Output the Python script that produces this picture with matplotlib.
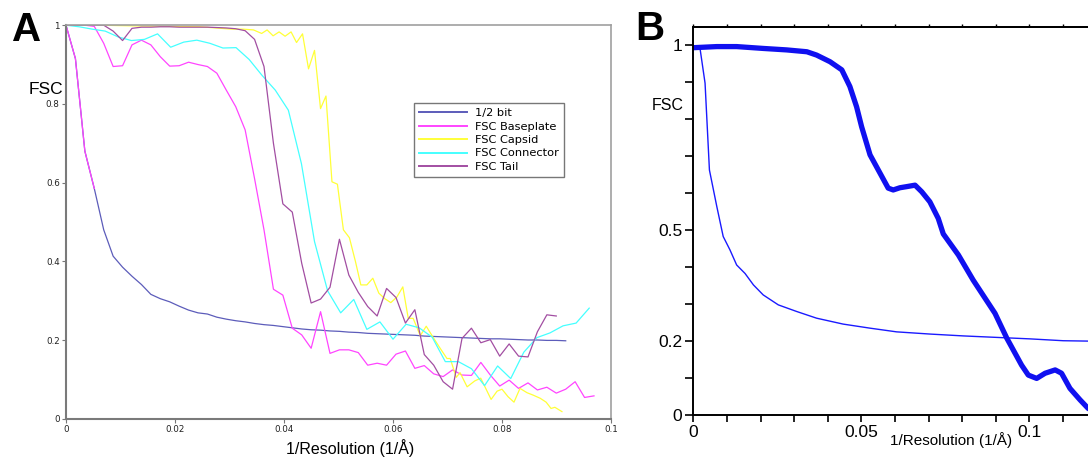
"""
FSC curves: (A) per-region FSC of the reconstruction vs the 1/2-bit threshold,
(B) gold-standard FSC of the full map vs the 1/2-bit threshold.
"""

import numpy as np
import matplotlib
matplotlib.use('Agg')
import matplotlib.pyplot as plt
from matplotlib.ticker import FixedLocator, FixedFormatter, NullFormatter

# ---------------------------------------------------------------- panel A data
# frequency sampling of the half-bit / baseplate / tail curves (1/A)
STEP_A = 0.00173
# connector map was sampled on a coarser grid
STEP_CONNECTOR = 0.0024

half_bit = [1.0, 0.915, 0.68, 0.585, 0.48, 0.413, 0.385, 0.362, 0.341, 0.316,
            0.305, 0.297, 0.286, 0.276, 0.269, 0.266, 0.258, 0.253, 0.249, 0.246,
            0.242, 0.239, 0.237, 0.234, 0.231, 0.228, 0.226, 0.225, 0.223, 0.222,
            0.220, 0.219, 0.217, 0.216, 0.215, 0.214, 0.213, 0.212, 0.210, 0.209,
            0.208, 0.207, 0.206, 0.205, 0.204, 0.203, 0.203, 0.202, 0.201, 0.200,
            0.200, 0.199, 0.199, 0.198]

fsc_baseplate = [1.0, 1.0, 1.0, 0.997, 0.954, 0.895, 0.897, 0.95, 0.962, 0.95,
                 0.92, 0.896, 0.897, 0.906, 0.90, 0.895, 0.878, 0.835, 0.793, 0.734,
                 0.61, 0.48, 0.329, 0.314, 0.23, 0.213, 0.179, 0.272, 0.166, 0.175,
                 0.175, 0.168, 0.136, 0.141, 0.136, 0.164, 0.172, 0.128, 0.135, 0.114,
                 0.107, 0.124, 0.111, 0.110, 0.143, 0.111, 0.083, 0.098, 0.077, 0.091,
                 0.073, 0.08, 0.065, 0.075, 0.094, 0.054, 0.058]

fsc_tail = [1.0, 1.0, 1.0, 1.0, 1.0, 0.985, 0.961, 0.992, 0.995, 0.995,
            0.996, 0.996, 0.995, 0.995, 0.995, 0.995, 0.994, 0.993, 0.991, 0.986,
            0.964, 0.895, 0.70, 0.546, 0.525, 0.395, 0.294, 0.304, 0.334, 0.456,
            0.365, 0.321, 0.285, 0.261, 0.331, 0.308, 0.243, 0.277, 0.163, 0.136,
            0.094, 0.075, 0.204, 0.23, 0.193, 0.201, 0.159, 0.19, 0.159, 0.157,
            0.221, 0.264, 0.261]

fsc_connector = [1.0, 0.996, 0.99, 0.985, 0.97, 0.961, 0.964, 0.978, 0.944, 0.957,
                 0.962, 0.954, 0.942, 0.943, 0.913, 0.872, 0.835, 0.784, 0.648, 0.45,
                 0.325, 0.269, 0.303, 0.227, 0.246, 0.202, 0.24, 0.231, 0.207, 0.145,
                 0.145, 0.127, 0.084, 0.134, 0.102, 0.169, 0.206, 0.218, 0.236, 0.243,
                 0.281]

# capsid map has its own (finer) frequency grid
capsid_freq = [0.0, 0.0062, 0.0136, 0.0191, 0.0246, 0.0304, 0.0325, 0.0344, 0.0359, 0.0369,
               0.0380, 0.0391, 0.0402, 0.0413, 0.0423, 0.0434, 0.0445, 0.0456, 0.0467, 0.0477,
               0.0488, 0.0498, 0.0509, 0.0520, 0.0531, 0.0541, 0.0552, 0.0563, 0.0574, 0.0585,
               0.0596, 0.0607, 0.0618, 0.0628, 0.0637, 0.0650, 0.0661, 0.0673, 0.0686, 0.0699,
               0.0705, 0.0716, 0.0723, 0.0736, 0.0750, 0.0761, 0.0780, 0.0791, 0.0800, 0.0811,
               0.0822, 0.0833, 0.0846, 0.0857, 0.0870, 0.0881, 0.0890, 0.0897, 0.0910]
fsc_capsid = [1.0, 1.0, 0.998, 0.997, 0.996, 0.99, 0.99, 0.988, 0.979, 0.988,
              0.973, 0.983, 0.972, 0.983, 0.956, 0.978, 0.889, 0.936, 0.788, 0.82,
              0.602, 0.596, 0.48, 0.46, 0.40, 0.34, 0.34, 0.357, 0.319, 0.305,
              0.295, 0.309, 0.335, 0.255, 0.255, 0.211, 0.235, 0.208, 0.18, 0.153,
              0.153, 0.105, 0.117, 0.081, 0.096, 0.103, 0.049, 0.07, 0.075, 0.056,
              0.042, 0.077, 0.066, 0.06, 0.052, 0.042, 0.026, 0.029, 0.018]

A_XTICKS = [0, 0.02, 0.04, 0.06, 0.08, 0.1]
A_XTICKLABELS = ['0', '0.02', '0.04', '0.06', '0.08', '0.1']
A_YTICKS = [0, 0.2, 0.4, 0.6, 0.8, 1.0]
A_YTICKLABELS = ['0', '0.2', '0.4', '0.6', '0.8', '1']

# ---------------------------------------------------------------- panel B data
fsc_full_freq = [0, 0.007, 0.0129, 0.0208, 0.0278, 0.0338, 0.0367, 0.0407, 0.0442, 0.0466,
                 0.0486, 0.0501, 0.0526, 0.0556, 0.058, 0.0595, 0.0615, 0.0635, 0.066, 0.068,
                 0.0704, 0.0729, 0.0744, 0.0789, 0.0833, 0.0898, 0.0933, 0.0977, 0.0997, 0.1022,
                 0.1047, 0.1077, 0.1096, 0.1121, 0.1151, 0.1175, 0.12]
fsc_full = [0.994, 0.997, 0.997, 0.992, 0.988, 0.983, 0.974, 0.956, 0.934, 0.889,
            0.834, 0.78, 0.704, 0.654, 0.614, 0.609, 0.615, 0.618, 0.622, 0.604,
            0.577, 0.532, 0.49, 0.433, 0.365, 0.275, 0.208, 0.135, 0.108, 0.099,
            0.113, 0.122, 0.113, 0.072, 0.041, 0.018, 0.005]

half_bit_b_freq = [0, 0.002, 0.0035, 0.0048, 0.007, 0.0085, 0.0089, 0.0109, 0.0129, 0.0154,
                   0.0179, 0.0208, 0.0253, 0.0308, 0.0367, 0.0446, 0.0526, 0.0605, 0.0705, 0.0804,
                   0.0903, 0.1002, 0.1101, 0.1175, 0.12]
half_bit_b = [1.0, 0.992, 0.898, 0.663, 0.564, 0.5, 0.483, 0.447, 0.406, 0.383,
              0.352, 0.325, 0.298, 0.28, 0.262, 0.246, 0.235, 0.225, 0.219, 0.214,
              0.21, 0.206, 0.201, 0.2, 0.199]

B_XTICKS = [0, 0.01, 0.02, 0.03, 0.04, 0.05, 0.06, 0.07, 0.08, 0.09, 0.1, 0.11]
B_XTICKLABELS = ['0', '', '', '', '', '0.05', '', '', '', '', '0.1', '']
B_YTICKS = [0, 0.1, 0.2, 0.3, 0.4, 0.5, 0.6, 0.7, 0.8, 0.9, 1.0]
B_YTICKLABELS = ['0', '', '0.2', '', '', '0.5', '', '', '', '', '1']

COLORS = {
    '1/2 bit': '#5c5cba',
    'FSC Baseplate': '#ff45ff',
    'FSC Capsid': '#ffff38',
    'FSC Connector': '#45ffff',
    'FSC Tail': '#a24ea2',
}

ARIAL = ['Liberation Sans', 'DejaVu Sans']
DEJAVU = ['DejaVu Sans']


def plot_panel_a(fig):
    ax = fig.add_axes([66 / 1088, 38.3 / 457, 545 / 1088, 393.5 / 457])

    x_hb = np.arange(len(half_bit)) * STEP_A
    x_bp = np.arange(len(fsc_baseplate)) * STEP_A
    x_tail = np.arange(len(fsc_tail)) * STEP_A
    x_con = np.arange(len(fsc_connector)) * STEP_CONNECTOR

    lw = 0.9
    ax.plot(x_hb, half_bit, color=COLORS['1/2 bit'], lw=lw, label='1/2 bit')
    # low-frequency part of the threshold curve is covered by the baseplate copy
    ax.plot(x_hb[:4], half_bit[:4], color=COLORS['FSC Baseplate'], lw=lw)
    ax.plot(x_bp, fsc_baseplate, color=COLORS['FSC Baseplate'], lw=lw, label='FSC Baseplate')
    ax.plot(capsid_freq, fsc_capsid, color=COLORS['FSC Capsid'], lw=lw, label='FSC Capsid')
    ax.plot(x_con, fsc_connector, color=COLORS['FSC Connector'], lw=lw, label='FSC Connector')
    ax.plot(x_tail, fsc_tail, color=COLORS['FSC Tail'], lw=lw, label='FSC Tail')

    ax.set_xlim(0, 0.1)
    ax.set_ylim(0, 1)
    ax.set_xticks(A_XTICKS)
    ax.set_xticklabels(A_XTICKLABELS, family=DEJAVU, fontsize=6.3, color='#222222')
    ax.set_yticks(A_YTICKS)
    ax.set_yticklabels(A_YTICKLABELS, family=DEJAVU, fontsize=6.3, color='#222222')
    ax.tick_params(axis='both', direction='out', length=3, width=0.8,
                   color='#777777', pad=1.5)

    for side in ['left', 'bottom']:
        ax.spines[side].set_color('#7a7a7a')
        ax.spines[side].set_linewidth(1.5)
    for side in ['top', 'right']:
        ax.spines[side].set_color('#a0a0a0')
        ax.spines[side].set_linewidth(1.2)

    leg = ax.legend(loc='upper left', bbox_to_anchor=(0.638, 0.802), borderaxespad=0,
                    prop={'family': DEJAVU, 'size': 8.2}, handlelength=4.2,
                    labelspacing=0.3, handletextpad=0.7, borderpad=0.45,
                    fancybox=False, framealpha=1)
    leg.get_frame().set_edgecolor('#777777')
    leg.get_frame().set_linewidth(1.0)
    for line in leg.get_lines():
        line.set_linewidth(1.4)

    fig.text(46 / 1088, 1 - 90 / 457, 'FSC', family=ARIAL, fontsize=12.5,
             ha='center', va='center')
    fig.text(350 / 1088, 1 - 448 / 457, '1/Resolution (1/\u00c5)', family=ARIAL,
             fontsize=11.5, ha='center', va='center')
    fig.text(27 / 1088, 1 - 30 / 457, 'A', family=ARIAL, fontsize=29,
             fontweight='bold', ha='center', va='center')


def plot_panel_b(fig):
    ax = fig.add_axes([693.3 / 1088, 42 / 457, (1088 - 693.3) / 1088, 388 / 457])

    ax.plot(half_bit_b_freq, half_bit_b, color='#1a1aff', lw=1.0)
    ax.plot(fsc_full_freq, fsc_full, color='#1010f0', lw=3.8,
            solid_joinstyle='round', solid_capstyle='round')

    ax.set_xlim(0, (1088 - 693.3) / 3360)
    ax.set_ylim(0, 1.05)

    ax.xaxis.set_major_locator(FixedLocator(B_XTICKS))
    ax.xaxis.set_major_formatter(FixedFormatter(B_XTICKLABELS))
    ax.yaxis.set_major_locator(FixedLocator(B_YTICKS))
    ax.yaxis.set_major_formatter(FixedFormatter(B_YTICKLABELS))
    for lab in ax.get_xticklabels() + ax.get_yticklabels():
        lab.set_family(ARIAL)
        lab.set_fontsize(12.5)
    ax.tick_params(axis='y', direction='out', length=6, width=1.2, pad=2)
    ax.tick_params(axis='x', direction='out', length=5, width=1.2, pad=2)

    # only tiny marks on the top frame
    top = ax.secondary_xaxis('top')
    top.xaxis.set_major_locator(FixedLocator(B_XTICKS))
    top.xaxis.set_major_formatter(NullFormatter())
    top.tick_params(direction='out', length=2.5, width=1.0)
    top.spines['top'].set_linewidth(1.4)

    for side in ['left', 'bottom', 'top']:
        ax.spines[side].set_color('black')
        ax.spines[side].set_linewidth(1.4)
    ax.spines['right'].set_visible(False)

    fig.text(668 / 1088, 1 - 105 / 457, 'FSC', family=ARIAL, fontsize=11.5,
             ha='center', va='center')
    fig.text(951 / 1088, 1 - 440 / 457, '1/Resolution (1/\u00c5)', family=ARIAL,
             fontsize=11, ha='center', va='center')
    fig.text(650 / 1088, 1 - 29 / 457, 'B', family=ARIAL, fontsize=29,
             fontweight='bold', ha='center', va='center')


def main():
    fig = plt.figure(figsize=(10.88, 4.57), dpi=100)
    fig.patch.set_facecolor('white')
    plot_panel_a(fig)
    plot_panel_b(fig)
    fig.savefig('out.png', dpi=100)


if __name__ == '__main__':
    main()
